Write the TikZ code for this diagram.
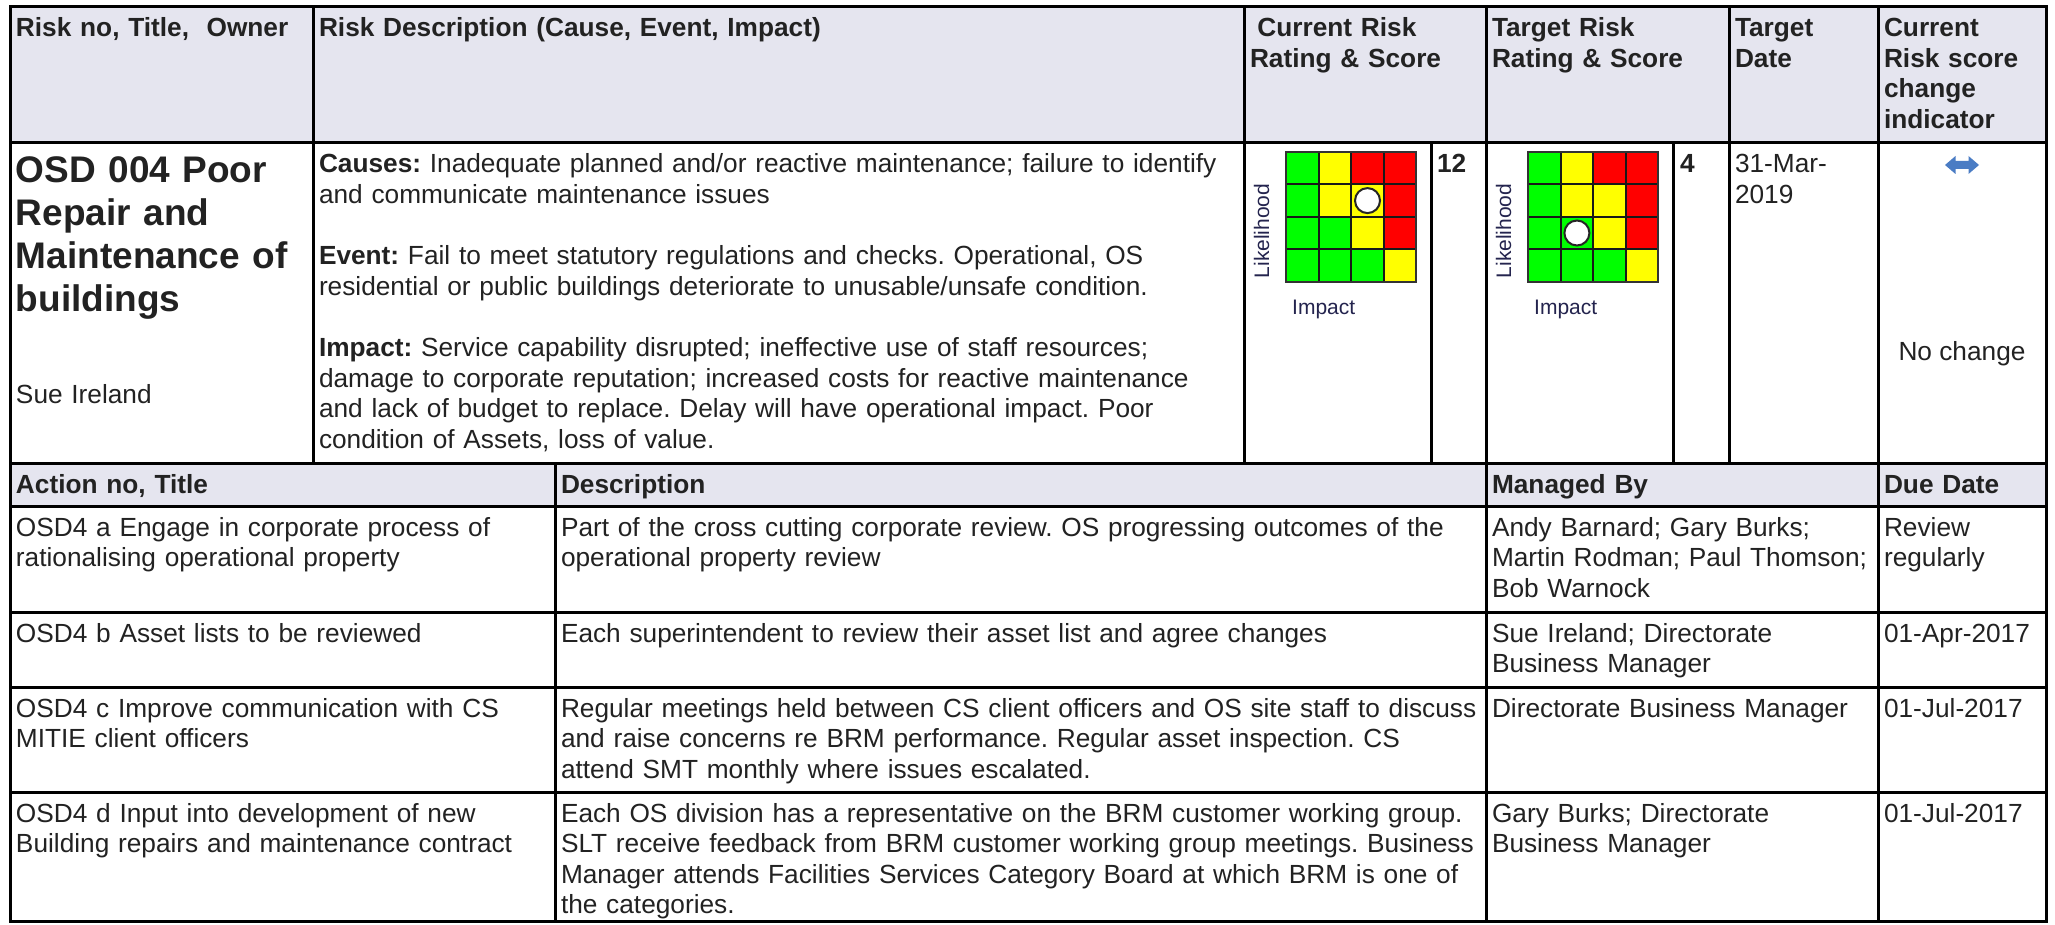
\documentclass[tikz,border=0pt]{standalone}
\usepackage{fontspec}
\setmainfont{Liberation Sans}
\frenchspacing
\definecolor{ink}{HTML}{222222}
\definecolor{hdr}{HTML}{E5E5EF}
\definecolor{gG}{HTML}{00FF00}
\definecolor{gY}{HTML}{FFFF00}
\definecolor{gR}{HTML}{FF0000}
\definecolor{lbl}{HTML}{24244E}
\definecolor{arr}{HTML}{4A7CC4}
\newcommand{\bodyfont}{\fontsize{26.25}{30.6}\selectfont}
\newcommand{\titlefont}{\fontsize{37}{42.7}\selectfont\bfseries}
\newcommand{\riskgrid}[4]{%
  \begin{scope}[shift={(#1,#2)}]
    \foreach \c/\r/\col in {0/0/gG,1/0/gY,2/0/gR,3/0/gR,
                            0/1/gG,1/1/gY,2/1/gY,3/1/gR,
                            0/2/gG,1/2/gG,2/2/gY,3/2/gR,
                            0/3/gG,1/3/gG,2/3/gG,3/3/gY}
      {\fill[\col] (\c*32.6,\r*32.4) rectangle ++(32.6,32.4);}
    \foreach \k in {1,2,3}{
      \draw[gline] (\k*32.6,0) -- (\k*32.6,129.6);
      \draw[gline] (0,\k*32.4) -- (130.4,\k*32.4);
    }
    \draw[gline, draw=black!80] (0,0) rectangle (130.4,129.6);
    \node[dot] (#4) at (#3) {};
  \end{scope}}
\begin{document}
\begin{tikzpicture}[x=1pt,y=-1pt,
  rule/.style={line width=3pt, draw=black, line cap=rect},
  gline/.style={line width=2pt, draw=black!90},
  dot/.style={circle, draw=black!85, line width=2pt, fill=white, minimum size=25pt, inner sep=0pt},
  cell/.style={anchor=base west, inner sep=0pt, outer sep=0pt, text=ink, align=left, text width=960pt, font=\bodyfont},
  hcell/.style={cell, font=\bodyfont\bfseries},
  lab/.style={inner sep=0pt, text=lbl, font=\fontsize{21}{24}\selectfont}]
\useasboundingbox (0,0) rectangle (2055,925);
\fill[white] (0,0) rectangle (2055,925);
% header fills
\fill[hdr] (10,7) rectangle (2046,143);
\fill[hdr] (10,463) rectangle (2046,506);
% risk grids
\riskgrid{1286}{152}{81.5,48.6}{curdot}
\riskgrid{1528}{152}{48.9,81}{tgtdot}
% grid labels
\node[lab, rotate=90, anchor=base] (lk1) at (1269,231) {Likelihood};
\node[lab, anchor=base west] (im1) at (1292,314) {Impact};
\node[lab, rotate=90, anchor=base] (lk2) at (1511,231) {Likelihood};
\node[lab, anchor=base west] (im2) at (1534,314) {Impact};
% change indicator arrow
\fill[arr] (1945,165) -- (1955.5,156) -- (1955.5,161) -- (1968.5,161) -- (1968.5,156)
  -- (1979,165) -- (1968.5,174) -- (1968.5,169) -- (1955.5,169) -- (1955.5,174) -- cycle;
% table rules
\foreach \yy in {7,143,463,506,612,687,792,921}
  {\draw[rule] (10,\yy) -- (2046,\yy);}
\foreach \xx in {10,313,1244,1486,1729,1878,2046}
  {\draw[rule] (\xx,7) -- (\xx,463);}
\foreach \xx in {1431,1673}
  {\draw[rule] (\xx,143) -- (\xx,463);}
\foreach \xx in {10,555,1486,1878,2046}
  {\draw[rule] (\xx,463) -- (\xx,921);}
% upper header
\node[hcell] (h1) at (16,36.5) {Risk no, Title,\ \ Owner};
\node[hcell] (h2) at (319,36.5) {Risk Description (Cause, Event, Impact)};
\node[hcell] (h3) at (1250,36.5) {\hspace*{7.4pt}Current Risk\\Rating \& Score};
\node[hcell] (h4) at (1492,36.5) {Target Risk\\Rating \& Score};
\node[hcell] (h5) at (1735,36.5) {Target\\Date};
\node[hcell] (h6) at (1884,36.5) {Current\\Risk score\\change\\indicator};
% risk row
\node[cell, font=\titlefont] (title) at (16,183) {OSD 004 Poor\\Repair and\\Maintenance of\\buildings};
\node[cell] (owner) at (16,403) {Sue Ireland};
\node[cell] (desc) at (319,173) {\textbf{Causes:} Inadequate planned and/or reactive maintenance; failure to identify\\
and communicate maintenance issues\\[30.6pt]
\textbf{Event:} Fail to meet statutory regulations and checks. Operational, OS\\
residential or public buildings deteriorate to unusable/unsafe condition.\\[30.6pt]
\textbf{Impact:} Service capability disrupted; ineffective use of staff resources;\\
damage to corporate reputation; increased costs for reactive maintenance\\
and lack of budget to replace. Delay will have operational impact. Poor\\
condition of Assets, loss of value.};
\node[hcell] (sc1) at (1437,173) {12};
\node[hcell] (sc2) at (1680,173) {4};
\node[cell] (tdate) at (1735,173) {31-Mar-\\2019};
\node[inner sep=0pt, anchor=base, text=ink, font=\bodyfont] (nochg) at (1962,360) {No change};
% action header
\node[hcell] (a1) at (16,493) {Action no, Title};
\node[hcell] (a2) at (561,493) {Description};
\node[hcell] (a3) at (1492,493) {Managed By};
\node[hcell] (a4) at (1884,493) {Due Date};
% action a
\node[cell] (ra1) at (16,536) {OSD4 a Engage in corporate process of\\rationalising operational property};
\node[cell] (ra2) at (561,536) {Part of the cross cutting corporate review. OS progressing outcomes of the\\operational property review};
\node[cell] (ra3) at (1492,536) {Andy Barnard; Gary Burks;\\Martin Rodman; Paul Thomson;\\Bob Warnock};
\node[cell] (ra4) at (1884,536) {Review\\regularly};
% action b
\node[cell] (rb1) at (16,642) {OSD4 b Asset lists to be reviewed};
\node[cell] (rb2) at (561,642) {Each superintendent to review their asset list and agree changes};
\node[cell] (rb3) at (1492,642) {Sue Ireland; Directorate\\Business Manager};
\node[cell] (rb4) at (1884,642) {01-Apr-2017};
% action c
\node[cell] (rc1) at (16,717) {OSD4 c Improve communication with CS\\MITIE client officers};
\node[cell] (rc2) at (561,717) {Regular meetings held between CS client officers and OS site staff to discuss\\and raise concerns re BRM performance. Regular asset inspection. CS\\attend SMT monthly where issues escalated.};
\node[cell] (rc3) at (1492,717) {Directorate Business Manager};
\node[cell] (rc4) at (1884,717) {01-Jul-2017};
% action d
\node[cell] (rd1) at (16,822) {OSD4 d Input into development of new\\Building repairs and maintenance contract};
\node[cell] (rd2) at (561,822) {Each OS division has a representative on the BRM customer working group.\\SLT receive feedback from BRM customer working group meetings. Business\\Manager attends Facilities Services Category Board at which BRM is one of\\the categories.};
\node[cell] (rd3) at (1492,822) {Gary Burks; Directorate\\Business Manager};
\node[cell] (rd4) at (1884,822) {01-Jul-2017};
\end{tikzpicture}
\end{document}
